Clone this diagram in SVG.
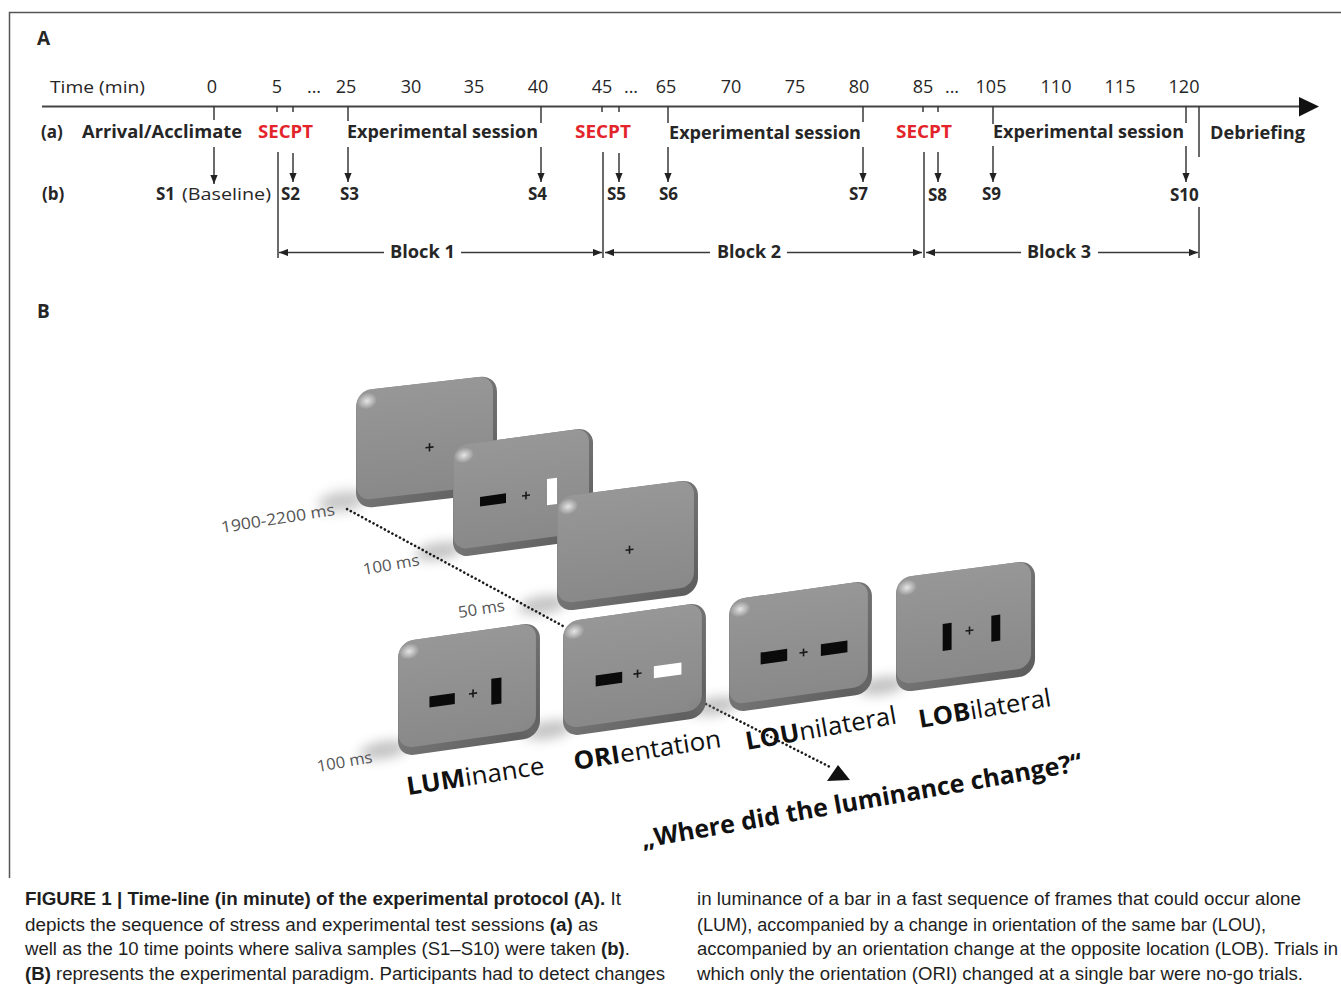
<svg xmlns="http://www.w3.org/2000/svg" xmlns:xlink="http://www.w3.org/1999/xlink" width="1341" height="990" viewBox="0 0 1341 990">
<style>
.t{font-family:"Open Sans","Liberation Sans",sans-serif;fill:#262626}
.num{font-size:18px;text-anchor:middle}
.lbl{font-size:17px;font-weight:bold}
.reg{font-size:17px}
.red{fill:#e3242b}
.ln{stroke:#3a3a3a;stroke-width:1.5;fill:none}
.arr{stroke:#3a3a3a;stroke-width:1.5;fill:none;marker-end:url(#ah)}
.cap{font-family:"Liberation Sans",Arial,sans-serif;font-size:17.5px;fill:#1e1e1e}
.ms{font-family:"Open Sans","Liberation Sans",sans-serif;font-size:16px;fill:#555}
.big{font-family:"Open Sans","Liberation Sans",sans-serif;font-size:25px;fill:#111}
.plus{stroke:#1a1a1a;stroke-width:1.6;fill:none}
.dot{stroke:#1a1a1a;stroke-width:2.6;stroke-linecap:round;stroke-dasharray:0.1 4.2;fill:none}
</style>
<defs>
<marker id="ah" viewBox="0 0 10 8" refX="10" refY="4" markerWidth="9" markerHeight="7.2" markerUnits="userSpaceOnUse" orient="auto-start-reverse">
<path d="M0,0 L10,4 L0,8 z" fill="#222"/>
</marker>
<linearGradient id="face" x1="0" y1="0" x2="0" y2="1">
<stop offset="0" stop-color="#979797"/>
<stop offset="1" stop-color="#898989"/>
</linearGradient>
<linearGradient id="edge" x1="0" y1="0" x2="1" y2="1">
<stop offset="0" stop-color="#8a8a8a"/>
<stop offset="1" stop-color="#5c5c5c"/>
</linearGradient>
<radialGradient id="hl" cx="0.5" cy="0.5" r="0.5">
<stop offset="0" stop-color="#ffffff" stop-opacity="0.75"/>
<stop offset="1" stop-color="#ffffff" stop-opacity="0"/>
</radialGradient>
<filter id="blur" x="-1" y="-1" width="3" height="3"><feGaussianBlur stdDeviation="6"/></filter>
<g id="panelShape">
<ellipse cx="-14" cy="106" rx="24" ry="9" fill="#7a7a7a" opacity="0.45" filter="url(#blur)"/>
<rect x="0" y="0" width="140" height="115" rx="16" fill="url(#edge)"/>
<rect x="0.5" y="0" width="135.5" height="107" rx="14" fill="url(#face)"/>
<ellipse cx="11" cy="11" rx="10" ry="8" fill="url(#hl)"/>
</g>
</defs>

<rect width="1341" height="990" fill="#ffffff"/>

<g id="frame">
<path d="M1341,12.5 H9.5 V878" stroke="#555" stroke-width="1.5" fill="none"/>
</g>

<g id="label-A"><text class="t" x="37" y="45" font-size="19" font-weight="bold">A</text></g>
<g id="label-B"><text class="t" x="37" y="318" font-size="19" font-weight="bold">B</text></g>

<g id="time-axis">
<text class="t reg" x="50" y="93" textLength="95" lengthAdjust="spacingAndGlyphs" fill="#333">Time (min)</text>
<g class="t num" fill="#333">
<text x="212" y="93">0</text><text x="277" y="93">5</text><text x="314" y="93">...</text>
<text x="346" y="93">25</text><text x="411" y="93">30</text><text x="474" y="93">35</text>
<text x="538" y="93">40</text><text x="602" y="93">45</text><text x="631" y="93">...</text>
<text x="666" y="93">65</text><text x="731" y="93">70</text><text x="795" y="93">75</text>
<text x="859" y="93">80</text><text x="923" y="93">85</text><text x="952" y="93">...</text>
<text x="991" y="93">105</text><text x="1056" y="93">110</text><text x="1120" y="93">115</text>
<text x="1184" y="93">120</text>
</g>
<line x1="42" y1="106.5" x2="1302" y2="106.5" stroke="#444" stroke-width="2.2"/>
<path d="M1299,97 L1319,106.5 L1299,116.5 z" fill="#111"/>
</g>

<g id="row-a">
<text class="t lbl" x="41" y="138">(a)</text>
<text class="t lbl" x="82" y="138" textLength="160" lengthAdjust="spacingAndGlyphs">Arrival/Acclimate</text>
<text class="t lbl red" x="258" y="138" textLength="55" lengthAdjust="spacingAndGlyphs">SECPT</text>
<text class="t lbl" x="347" y="138" textLength="191" lengthAdjust="spacingAndGlyphs">Experimental session</text>
<text class="t lbl red" x="575" y="138" textLength="56" lengthAdjust="spacingAndGlyphs">SECPT</text>
<text class="t lbl" x="669" y="139" textLength="192" lengthAdjust="spacingAndGlyphs">Experimental session</text>
<text class="t lbl red" x="896" y="138" textLength="56" lengthAdjust="spacingAndGlyphs">SECPT</text>
<text class="t lbl" x="993" y="138" textLength="191" lengthAdjust="spacingAndGlyphs">Experimental session</text>
<text class="t lbl" x="1210" y="139" textLength="95" lengthAdjust="spacingAndGlyphs">Debriefing</text>
</g>

<g id="row-b">
<text class="t lbl" x="42" y="200">(b)</text>
<text class="t lbl" x="156" y="200">S1</text>
<text class="t reg" x="182" y="200" fill="#333" textLength="89" lengthAdjust="spacingAndGlyphs">(Baseline)</text>
<text class="t lbl" x="281" y="200">S2</text>
<text class="t lbl" x="340" y="200">S3</text>
<text class="t lbl" x="528" y="200">S4</text>
<text class="t lbl" x="607" y="200">S5</text>
<text class="t lbl" x="659" y="200">S6</text>
<text class="t lbl" x="849" y="200">S7</text>
<text class="t lbl" x="928" y="201">S8</text>
<text class="t lbl" x="982" y="200">S9</text>
<text class="t lbl" x="1170" y="201">S10</text>
</g>

<g id="blocks">
<text class="t lbl" x="390" y="258" textLength="65" lengthAdjust="spacingAndGlyphs">Block 1</text>
<text class="t lbl" x="717" y="258" textLength="64" lengthAdjust="spacingAndGlyphs">Block 2</text>
<text class="t lbl" x="1027" y="258" textLength="64" lengthAdjust="spacingAndGlyphs">Block 3</text>
</g>

<g id="connectors">
<path class="ln" d="M214,106 V120 M277,106 V112 M293,106 V112 M348,106 V121 M541,106 V123 M602,106 V112 M619,106 V112 M668,106 V123 M863,106 V122 M923,106 V112 M938,106 V112 M993,106 V124 M1186,106 V123"/>
<path class="ln" d="M1199,106 V157 M1199,207 V258 M278,152 V258 M603,152 V258 M924,152 V258"/>
<path class="arr" d="M214,147 V184"/>
<path class="arr" d="M293,153 V182"/>
<path class="arr" d="M348,147 V182"/>
<path class="arr" d="M541,147 V182"/>
<path class="arr" d="M619,153 V182"/>
<path class="arr" d="M668,147 V182"/>
<path class="arr" d="M863,147 V182"/>
<path class="arr" d="M938,152 V182"/>
<path class="arr" d="M993,146 V182"/>
<path class="arr" d="M1186,146 V182"/>
<path class="arr" d="M384,252.5 H279"/>
<path class="arr" d="M461,252.5 H602"/>
<path class="arr" d="M710,252.5 H605"/>
<path class="arr" d="M787,252.5 H922"/>
<path class="arr" d="M1021,252.5 H926"/>
<path class="arr" d="M1098,252.5 H1198"/>
</g>

<g id="frame-fixation-1" transform="matrix(1.007,-0.1143,0,1.026,356,391)">
<use xlink:href="#panelShape"/>
<path class="plus" d="M69,63 H77 M73,59 V67"/>
</g>
<g id="frame-target" transform="matrix(1.0,-0.1357,0,0.974,453,446)">
<use xlink:href="#panelShape"/>
<rect x="27" y="56" width="26" height="10" fill="#0a0a0a"/>
<path class="plus" d="M69,61 H77 M73,57 V65"/>
<rect x="94" y="47" width="10" height="27" fill="#ffffff"/>
</g>
<g id="frame-fixation-2" transform="matrix(1.007,-0.1286,0,1.0,557,497)">
<use xlink:href="#panelShape"/>
<path class="plus" d="M68,62 H76 M72,58 V66"/>
</g>

<g id="connectors-dotted">
<path class="dot" d="M347,509 L563,626"/>
<path class="dot" d="M706,704 L830,767"/>
<path d="M838,765 L827,781 L850,780 z" fill="#111"/>
</g>

<g id="frame-LUM" transform="matrix(1.014,-0.1429,0,1,398,642)">
<use xlink:href="#panelShape"/>
<rect x="31" y="59" width="25" height="11" fill="#0a0a0a"/>
<path class="plus" d="M70,62 H78 M74,58 V66"/>
<rect x="92" y="50" width="10" height="26" fill="#0a0a0a"/>
</g>
<g id="frame-ORI" transform="matrix(1.021,-0.1429,0,1,563,622)">
<use xlink:href="#panelShape"/>
<rect x="32" y="58" width="26" height="11" fill="#0a0a0a"/>
<path class="plus" d="M69,62 H77 M73,58 V66"/>
<rect x="89" y="57" width="27" height="12" fill="#ffffff"/>
</g>
<g id="frame-LOU" transform="matrix(1.021,-0.1429,0,0.983,729,600)">
<use xlink:href="#panelShape"/>
<rect x="31" y="58" width="26" height="12" fill="#0a0a0a"/>
<path class="plus" d="M69,64 H77 M73,60 V68"/>
<rect x="90" y="58" width="26" height="12" fill="#0a0a0a"/>
</g>
<g id="frame-LOB" transform="matrix(0.993,-0.1286,0,1,896,578)">
<use xlink:href="#panelShape"/>
<rect x="47" y="52" width="9" height="27" fill="#0a0a0a"/>
<path class="plus" d="M70,62 H78 M74,58 V66"/>
<rect x="96" y="50" width="9" height="26" fill="#0a0a0a"/>
</g>

<g id="timing-labels">
<text class="ms" transform="translate(222,533) rotate(-9)" textLength="115" lengthAdjust="spacingAndGlyphs">1900-2200 ms</text>
<text class="ms" transform="translate(364,575) rotate(-10)" textLength="57" lengthAdjust="spacingAndGlyphs">100 ms</text>
<text class="ms" transform="translate(459,618) rotate(-9)" textLength="47" lengthAdjust="spacingAndGlyphs">50 ms</text>
<text class="ms" transform="translate(318,772) rotate(-10)" textLength="56" lengthAdjust="spacingAndGlyphs">100 ms</text>
</g>

<g id="condition-labels">
<text class="big" transform="translate(408,795) rotate(-8.7)" textLength="139" lengthAdjust="spacingAndGlyphs"><tspan font-weight="bold">LUM</tspan>inance</text>
<text class="big" transform="translate(575,770) rotate(-8.9)" textLength="149" lengthAdjust="spacingAndGlyphs"><tspan font-weight="bold">ORI</tspan>entation</text>
<text class="big" transform="translate(747,750) rotate(-10)" textLength="153" lengthAdjust="spacingAndGlyphs"><tspan font-weight="bold">LOU</tspan>nilateral</text>
<text class="big" transform="translate(920,728) rotate(-9.5)" textLength="134" lengthAdjust="spacingAndGlyphs"><tspan font-weight="bold">LOB</tspan>ilateral</text>
<text class="big" font-size="26" font-weight="bold" transform="translate(643,848) rotate(-10)" textLength="447" lengthAdjust="spacingAndGlyphs">„Where did the luminance change?“</text>
</g>

<g id="caption">
<text class="cap" x="25" y="905" textLength="596" lengthAdjust="spacingAndGlyphs"><tspan font-weight="bold">FIGURE 1 | Time-line (in minute) of the experimental protocol (A).</tspan> It</text>
<text class="cap" x="25" y="931" textLength="573" lengthAdjust="spacingAndGlyphs">depicts the sequence of stress and experimental test sessions <tspan font-weight="bold">(a)</tspan> as</text>
<text class="cap" x="25" y="955" textLength="605" lengthAdjust="spacingAndGlyphs">well as the 10 time points where saliva samples (S1–S10) were taken <tspan font-weight="bold">(b)</tspan>.</text>
<text class="cap" x="25" y="980" textLength="640" lengthAdjust="spacingAndGlyphs"><tspan font-weight="bold">(B)</tspan> represents the experimental paradigm. Participants had to detect changes</text>
<text class="cap" x="697" y="905" textLength="604" lengthAdjust="spacingAndGlyphs">in luminance of a bar in a fast sequence of frames that could occur alone</text>
<text class="cap" x="697" y="931" textLength="569" lengthAdjust="spacingAndGlyphs">(LUM), accompanied by a change in orientation of the same bar (LOU),</text>
<text class="cap" x="697" y="955" textLength="641" lengthAdjust="spacingAndGlyphs">accompanied by an orientation change at the opposite location (LOB). Trials in</text>
<text class="cap" x="697" y="980" textLength="606" lengthAdjust="spacingAndGlyphs">which only the orientation (ORI) changed at a single bar were no-go trials.</text>
</g>
</svg>
